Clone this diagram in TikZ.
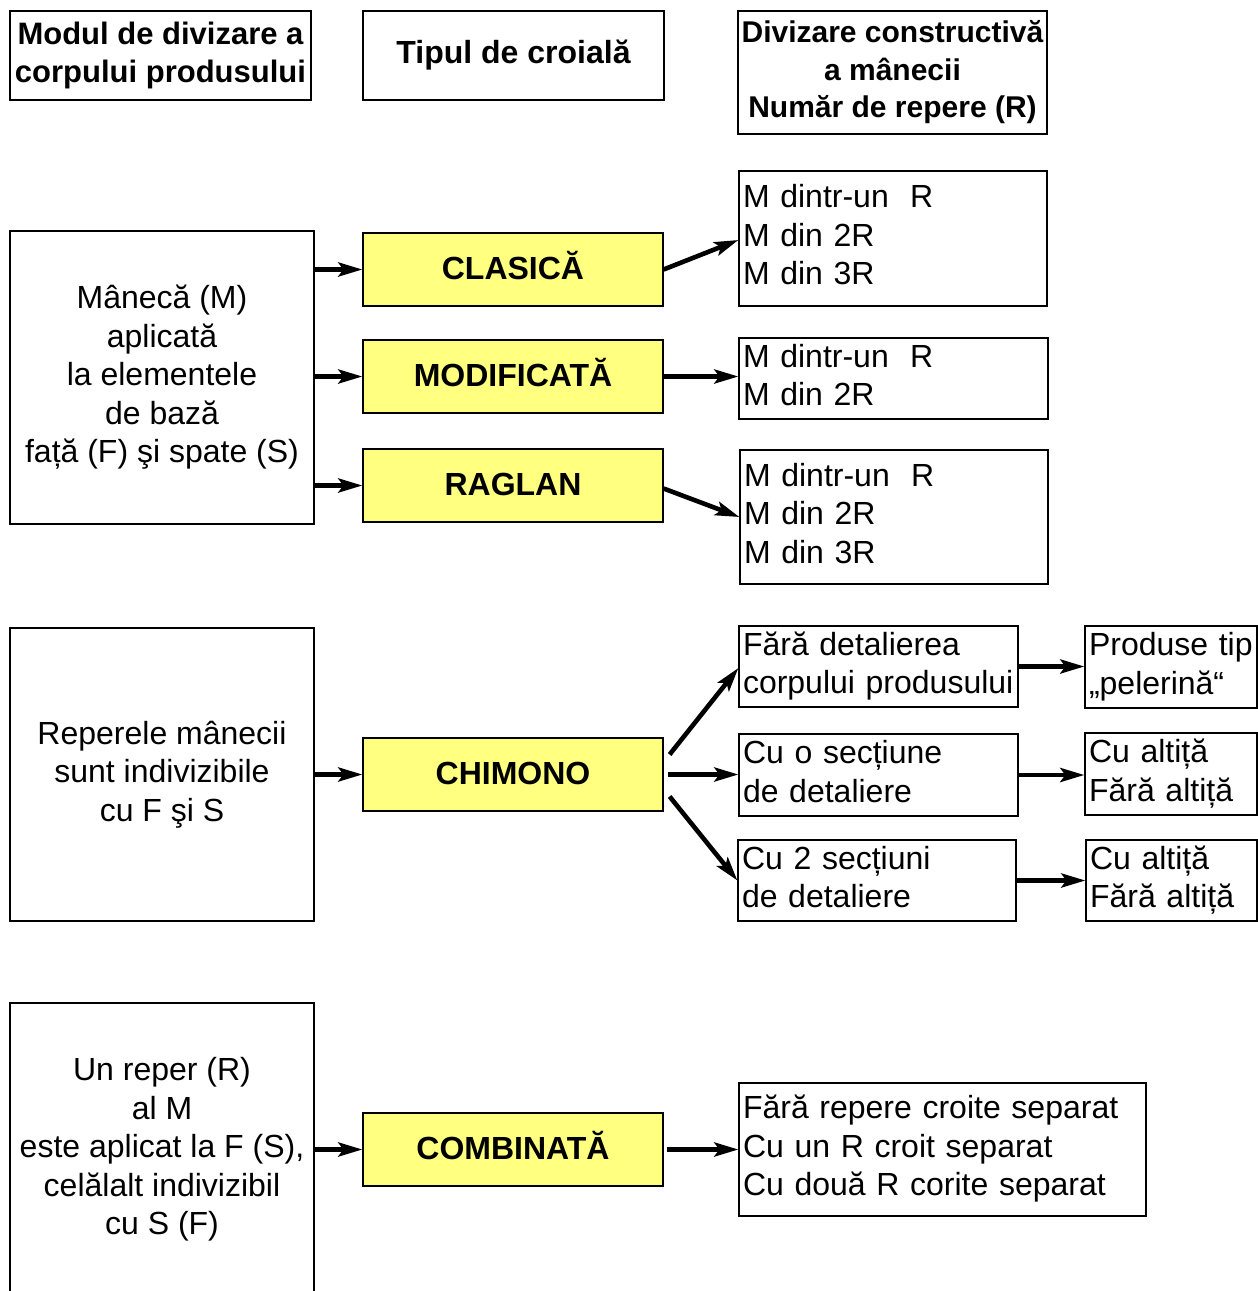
\documentclass[tikz,border=0pt]{standalone}
\usepackage{fontspec}
\setmainfont{Liberation Sans}
\usetikzlibrary{arrows.meta}
\definecolor{yel}{HTML}{FFFF80}
\tikzset{
  box/.style={draw=black, line width=1.2pt, rectangle, inner sep=0pt, text=black},
  reg/.style={font=\fontsize{32}{38.5}\selectfont},
  bld/.style={font=\fontsize{30}{37.5}\selectfont\bfseries},
  yelbox/.style={box, fill=yel, font=\fontsize{32}{38}\selectfont\bfseries, minimum width=300pt, minimum height=73pt, text height=20pt, text depth=0pt},
  leftbox/.style={box, reg, align=center, minimum width=304pt, minimum height=293pt},
  lbox/.style={box, reg, align=left, inner xsep=4pt, inner ysep=0pt, text height=20pt},
  twoline/.style={text depth=43pt},
  threeline/.style={text depth=82pt},
  arr/.style={line width=4.6pt, -{Stealth[length=24pt,width=14pt,inset=5pt]}}
}
\begin{document}
\begin{tikzpicture}[x=1pt,y=-1pt]
\useasboundingbox (0,0) rectangle (1258,1291);
\clip (0,0) rectangle (1258,1291);
\fill[white] (0,0) rectangle (1258,1291);
% headers
\node[box, font=\fontsize{31}{37.5}\selectfont\bfseries, align=center, minimum width=301pt, minimum height=89pt] (h1) at (160.5,55.5) {Modul de divizare a\\corpului produsului};
\node[box, font=\fontsize{32}{37.5}\selectfont\bfseries, align=center, minimum width=301pt, minimum height=89pt] (h2) at (513.5,55.5) {Tipul de croială};
\node[box, bld, align=center, minimum width=309pt, minimum height=123pt] (h3) at (892.5,72.5) {Divizare constructivă\\a mânecii\\Număr de repere (R)};
% left boxes
\node[leftbox] (L1) at (162,377.5) {Mânecă (M)\\aplicată\\la elementele\\de bază\\față (F) şi spate (S)};
\node[leftbox] (L2) at (162,774.5) {Reperele mânecii\\sunt indivizibile\\cu F şi S};
\node[leftbox] (L3) at (162,1149.5) {Un reper (R)\\al M\\este aplicat la F (S),\\celălalt indivizibil\\cu S (F)};
% yellow boxes
\node[yelbox] (Y1) at (513,269.5) {CLASICĂ};
\node[yelbox] (Y2) at (513,376.5) {MODIFICATĂ};
\node[yelbox] (Y3) at (513,485.5) {RAGLAN};
\node[yelbox] (Y4) at (513,774.5) {CHIMONO};
\node[yelbox] (Y5) at (513,1149.5) {COMBINATĂ};
% right boxes
\node[lbox, threeline, text width=300pt, minimum height=135pt] (A) at (893,238.5) {M dintr-un\ \ R\\M din 2R\\M din 3R};
\node[lbox, twoline, text width=301pt, minimum height=81pt] (B) at (893.5,378.5) {M dintr-un\ \ R\\M din 2R};
\node[lbox, threeline, text width=300pt, minimum height=134pt] (C) at (894,517) {M dintr-un\ \ R\\M din 2R\\M din 3R};
\node[lbox, twoline, text width=271pt, minimum height=81pt] (D) at (878.5,666.5) {Fără detalierea\\corpului produsului};
\node[lbox, twoline, text width=271pt, minimum height=82pt] (E) at (878.5,775) {Cu o secțiune\\de detaliere};
\node[lbox, twoline, text width=270pt, minimum height=81pt] (F) at (877,880.5) {Cu 2 secțiuni\\de detaliere};
\node[lbox, threeline, text width=399pt, minimum height=133pt] (G) at (942.5,1149.5) {Fără repere croite separat\\Cu un R croit separat\\Cu două R corite separat};
\node[lbox, twoline, text width=164pt, minimum height=82pt] (H) at (1171,667) {Produse tip\\„pelerină“};
\node[lbox, twoline, text width=164pt, minimum height=82pt] (I) at (1171,774) {Cu altiță\\Fără altiță};
\node[lbox, twoline, text width=163pt, minimum height=81pt] (J) at (1171.5,880.5) {Cu altiță\\Fără altiță};
% arrows
\draw[arr] (L1.east |- Y1.west) -- (Y1.west);
\draw[arr] (L1.east |- Y2.west) -- (Y2.west);
\draw[arr] (L1.east |- Y3.west) -- (Y3.west);
\draw[arr] (L2.east |- Y4.west) -- (Y4.west);
\draw[arr] (L3.east |- Y5.west) -- (Y5.west);
\draw[arr] (Y1.east) -- ([yshift=-1.5pt]A.west);
\draw[arr] (Y2.east) -- (B.west |- Y2.east);
\draw[arr] ([yshift=-3pt]Y3.east) -- (C.west);
\draw[arr] ([shift={(6pt,20pt)}]Y4.east) -- ([yshift=-1.5pt]D.west);
\draw[arr] ([xshift=4pt]Y4.east) -- (E.west |- Y4.east);
\draw[arr] ([shift={(6pt,-22pt)}]Y4.east) -- (F.west);
\draw[arr] (D.east) -- (H.west |- D.east);
\draw[arr] (E.east) -- (I.west |- E.east);
\draw[arr] (F.east) -- (J.west |- F.east);
\draw[arr] ([xshift=3pt]Y5.east) -- (G.west |- Y5.east);
\end{tikzpicture}
\end{document}
